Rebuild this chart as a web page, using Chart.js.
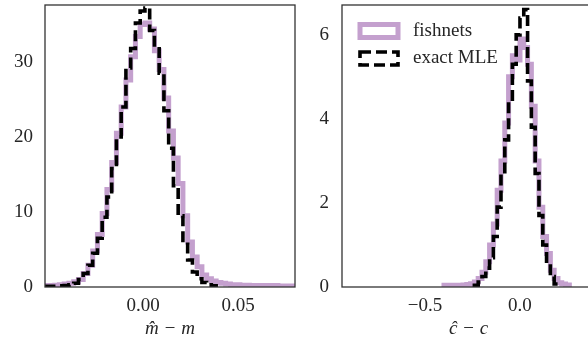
<!DOCTYPE html>
<html>
<head>
<meta charset="utf-8">
<title>fishnets vs exact MLE</title>
<script src="https://cdn.jsdelivr.net/npm/chart.js@4.4.1/dist/chart.umd.min.js"></script>
<style>
    html, body { margin: 0; padding: 0; background: #fff; overflow: hidden; width: 588px; height: 347px; }
    canvas { position: absolute; top: 0; }
    #m-panel { left: 0; }
    #c-panel { left: 300px; }
</style>
</head>
<body>
<canvas id="m-panel" width="300" height="347"></canvas>
<canvas id="c-panel" width="300" height="347"></canvas>
<script>
// Histogram densities

// m-hat minus m, bins of 0.0025
const mBinStart = -0.0515;
const mBinWidth = 0.0025;
const mFishnets = [
    0.2, 0.2, 0.25, 0.3, 0.4, 0.5, 0.7, 1.0, 1.8, 2.9,
    4.8, 7.0, 9.8, 13.0, 16.6, 20.5, 24.0, 27.6, 30.7, 33.4,
    35.0, 35.2, 34.4, 31.5, 29.0, 25.2, 20.8, 17.2, 13.8, 9.5,
    6.0, 4.0, 2.7, 1.6, 1.1, 0.8, 0.6, 0.5, 0.4, 0.3,
    0.3, 0.25, 0.25, 0.2, 0.2, 0.2, 0.2, 0.2, 0.2, 0.15,
    0.15, 0.15, 0.15
];
const mExact = [
    0.1, 0.1, 0.1, 0.15, 0.2, 0.3, 0.5, 1.0, 1.8, 2.9,
    4.5, 6.5, 9.3, 12.0, 15.8, 20.0, 24.0, 29.2, 31.8, 35.2,
    36.8, 37.2, 34.2, 32.0, 28.5, 23.5, 18.5, 13.5, 9.5, 6.2,
    3.6, 2.0, 1.1, 0.6, 0.3, 0.15
];
const mXTicks = [0.0, 0.05];
const mYTicks = [0, 10, 20, 30];

// c-hat minus c, bins of 0.02
const cBinWidth = 0.02;
const cFishnetsStart = -0.40;
const cFishnets = [
    0.04, 0.04, 0.04, 0.04, 0.04, 0.05, 0.06, 0.08, 0.12, 0.2,
    0.35, 0.6, 1.0, 1.5, 2.3, 3.0, 3.9, 5.0, 5.5, 5.4,
    5.9, 5.7, 5.3, 4.3, 3.0, 1.9, 1.2, 0.8, 0.4, 0.2,
    0.1, 0.07, 0.05
];
const cExactStart = -0.24;
const cExact = [
    0.04, 0.12, 0.25, 0.45, 0.7, 1.2, 1.9, 2.7, 3.5, 4.4,
    5.3, 6.0, 6.4, 6.6, 4.9, 3.8, 2.7, 1.7, 1.0, 0.55,
    0.25, 0.07
];
const cXTicks = [-0.5, 0.0];
const cYTicks = [0, 2, 4, 6];

const seriesLabels = ['fishnets', 'exact MLE'];

const FONT = "'Liberation Serif', 'DejaVu Serif', serif";
const TEXT_COLOR = '#262626';
const PURPLE = 'rgb(196, 160, 206)';

Chart.defaults.font.family = FONT;
Chart.defaults.font.size = 19;
Chart.defaults.color = TEXT_COLOR;

// Turn bin heights into the outline of a step histogram
function stepOutline(start, width, heights) {
    const points = [];
    let prev = 0;
    heights.forEach((h, i) => {
        const edge = start + i * width;
        points.push({ x: edge, y: prev }, { x: edge, y: h });
        prev = h;
    });
    const end = start + heights.length * width;
    points.push({ x: end, y: prev }, { x: end, y: 0 });
    return points;
}

// Tick labels with a real minus sign
function tickText(value, decimals) {
    const text = Math.abs(value) < 1e-12 ? (0).toFixed(decimals) : value.toFixed(decimals);
    return text.replace('-', '\u2212');
}

// Box round the plot area, drawn over the lines like matplotlib spines
const framePlugin = {
    id: 'frame',
    afterDatasetsDraw(chart) {
        const { ctx, chartArea: a } = chart;
        ctx.save();
        ctx.strokeStyle = '#333';
        ctx.lineWidth = 1.3;
        ctx.strokeRect(a.left, a.top, a.right - a.left, a.bottom - a.top);
        ctx.restore();
    }
};

// Legend in the upper left of the plot area
const insideLegendPlugin = {
    id: 'insideLegend',
    afterDraw(chart, args, opts) {
        if (!opts.show) return;
        const { ctx, chartArea: a } = chart;
        // fishnets is drawn under the dashed line, but listed first
        const items = chart.data.datasets.slice().reverse();
        items.forEach((ds, i) => {
            const cy = a.top + 26 + i * 27.5;
            const left = a.left + 18;
            ctx.save();
            ctx.strokeStyle = ds.borderColor;
            ctx.lineWidth = ds.borderWidth;
            ctx.setLineDash(ds.borderDash || []);
            ctx.fillStyle = '#fff';
            ctx.beginPath();
            ctx.rect(left, cy - 6.5, 38, 13);
            ctx.fill();
            ctx.stroke();
            ctx.setLineDash([]);
            ctx.fillStyle = TEXT_COLOR;
            ctx.font = '19px ' + FONT;
            ctx.textBaseline = 'middle';
            ctx.fillText(ds.label, left + 38 + 15, cy);
            ctx.restore();
        });
    }
};

function makeHistogramChart(canvasId, s) {
    const ctx = document.getElementById(canvasId).getContext('2d');
    const config = {
        type: 'line',
        data: {
            datasets: [
                {
                    label: seriesLabels[1],
                    data: stepOutline(s.exactStart, s.binWidth, s.exact),
                    borderColor: '#000',
                    borderWidth: 3.6,
                    borderDash: [11, 5],
                    clip: 0
                },
                {
                    label: seriesLabels[0],
                    data: stepOutline(s.fishStart, s.binWidth, s.fish),
                    borderColor: PURPLE,
                    borderWidth: 5,
                    clip: 0
                }
            ]
        },
        options: {
            responsive: false,
            devicePixelRatio: 1,
            animation: false,
            events: [],
            elements: {
                point: { radius: 0 },
                line: { tension: 0, fill: false, borderJoinStyle: 'miter', borderCapStyle: 'butt' }
            },
            layout: { padding: { left: 0, right: 5, top: 5, bottom: 0 } },
            scales: {
                x: {
                    type: 'linear',
                    min: s.xMin,
                    max: s.xMax,
                    grid: { display: false, drawTicks: false },
                    border: { display: false },
                    afterBuildTicks: (scale) => { scale.ticks = s.xTicks.map(v => ({ value: v })); },
                    afterFit: (scale) => {
                        scale.height = 60;
                        scale.paddingLeft = 0;
                        scale.paddingRight = 0;
                    },
                    ticks: {
                        padding: 8,
                        maxRotation: 0,
                        callback: (v) => tickText(v, s.xDecimals)
                    },
                    title: {
                        display: true,
                        text: s.xTitle,
                        font: { size: 19, style: 'italic' },
                        padding: { top: 0, bottom: 7 }
                    }
                },
                y: {
                    min: 0,
                    max: s.yMax,
                    grid: { display: false, drawTicks: false },
                    border: { display: false },
                    afterBuildTicks: (scale) => { scale.ticks = s.yTicks.map(v => ({ value: v })); },
                    afterFit: (scale) => {
                        scale.width = s.yAxisWidth;
                        scale.paddingTop = 0;
                        scale.paddingBottom = 0;
                    },
                    ticks: { padding: s.yPad, callback: (v) => String(v) }
                }
            },
            plugins: {
                legend: { display: false },
                tooltip: { enabled: false },
                insideLegend: { show: s.legend }
            }
        },
        plugins: [framePlugin, insideLegendPlugin]
    };
    return new Chart(ctx, config);
}

makeHistogramChart('m-panel', {
    fishStart: mBinStart, exactStart: mBinStart, binWidth: mBinWidth,
    fish: mFishnets, exact: mExact,
    xMin: -0.0516, xMax: 0.080, yMax: 37.6,
    xTicks: mXTicks, yTicks: mYTicks, xDecimals: 2,
    xTitle: 'm\u0302 \u2212 m',
    yAxisWidth: 45, yPad: 12, legend: false
});

makeHistogramChart('c-panel', {
    fishStart: cFishnetsStart, exactStart: cExactStart, binWidth: cBinWidth,
    fish: cFishnets, exact: cExact,
    xMin: -0.937, xMax: 0.395, yMax: 6.71,
    xTicks: cXTicks, yTicks: cYTicks, xDecimals: 1,
    xTitle: '\u0109 \u2212 c',
    yAxisWidth: 42, yPad: 13, legend: true
});
</script>
</body>
</html>
